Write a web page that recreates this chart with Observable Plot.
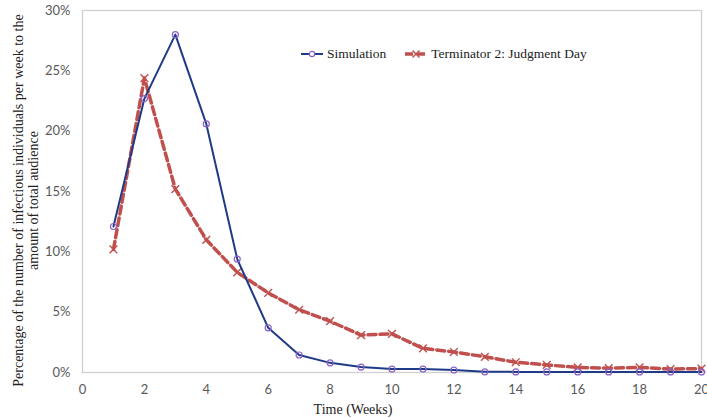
<!DOCTYPE html>
<html>
<head>
<meta charset="utf-8">
<script src="https://cdn.jsdelivr.net/npm/d3@7"></script>
<script src="https://cdn.jsdelivr.net/npm/@observablehq/plot@0.6"></script>
<style>
  body { margin: 0; background: #fff; }
  #wrap { position: relative; width: 707px; height: 418px; }
  #legend { position: absolute; left: 301px; top: 46px; font-family: "Liberation Serif", "Times New Roman", serif; font-size: 13.5px; color: #222; display: flex; align-items: center; white-space: nowrap; }
  #legend .item { display: flex; align-items: center; }
  #legend svg { margin-right: 4px; }
</style>
</head>
<body>
<div id="wrap"></div>
<script>
const weeks = [1,2,3,4,5,6,7,8,9,10,11,12,13,14,15,16,17,18,19,20];
const simulation = [12.1,22.7,28.0,20.6,9.4,3.7,1.45,0.8,0.45,0.28,0.28,0.2,0.06,0.05,0.05,0.05,0.05,0.05,0.05,0.05];
const terminator = [10.2,24.4,15.2,11.0,8.3,6.6,5.2,4.25,3.1,3.2,2.0,1.7,1.3,0.85,0.63,0.42,0.36,0.42,0.28,0.33];
const seriesNames = ["Simulation", "Terminator 2: Judgment Day"];
const xTicks = [0,2,4,6,8,10,12,14,16,18,20];
const yTicks = [0,5,10,15,20,25,30];
const xTitle = "Time (Weeks)";
const yTitle = "Percentage of the number of infectious individuals per week to the\namount of total audience";

const simData = weeks.map((w, i) => ({week: w, value: simulation[i]}));
const termData = weeks.map((w, i) => ({week: w, value: terminator[i]}));

const blue = "#1F3B87";
const purple = "#8A63C8";
const red = "#C0504D";

const chart = Plot.plot({
  width: 707,
  height: 418,
  marginLeft: 82,
  marginRight: 6,
  marginTop: 10,
  marginBottom: 46,
  x: {domain: [0, 20]},
  y: {domain: [0, 30]},
  style: {fontFamily: "Lato, 'Liberation Sans', sans-serif", fontSize: "13px", color: "#595959", background: "#fff"},
  marks: [
    Plot.frame({stroke: "#d0d0d0", strokeWidth: 1.3}),
    Plot.axisX({ticks: xTicks, tickSize: 0, tickPadding: 12, label: null, fontSize: 13, fill: "#595959"}),
    Plot.axisY({ticks: yTicks, tickSize: 0, tickPadding: 12, label: null, tickFormat: d => d + "%", fontSize: 13, fill: "#595959"}),
    Plot.text([xTitle], {frameAnchor: "bottom", dx: -39, dy: 37, lineAnchor: "middle", fontFamily: "'Liberation Serif', 'Times New Roman', serif", fontSize: 14, fill: "#222"}),
    Plot.text([yTitle], {frameAnchor: "left", dx: -57, dy: 9, rotate: -90, textAnchor: "middle", lineAnchor: "middle", lineHeight: 1.07, fontFamily: "'Liberation Serif', 'Times New Roman', serif", fontSize: 14, fill: "#222"}),
    Plot.line(termData, {x: "week", y: "value", stroke: red, strokeWidth: 3.5, strokeDasharray: "8,4"}),
    Plot.dot(termData, {x: "week", y: "value", symbol: "times", r: 3.6, stroke: red, strokeWidth: 1.4}),
    Plot.line(simData, {x: "week", y: "value", stroke: blue, strokeWidth: 2}),
    Plot.dot(simData, {x: "week", y: "value", symbol: "circle", r: 3, stroke: purple, strokeWidth: 1.2, fill: "none"})
  ]
});

const wrap = document.getElementById("wrap");
wrap.appendChild(chart);

const legend = document.createElement("div");
legend.id = "legend";
legend.innerHTML = `
  <div class="item">
    <svg width="22" height="12"><line x1="0" y1="6" x2="22" y2="6" stroke="${blue}" stroke-width="2"/><circle cx="11" cy="6" r="2.6" fill="#fff" stroke="${purple}" stroke-width="1.2"/></svg>
    <span>${seriesNames[0]}</span>
  </div>
  <div class="item" style="margin-left:19px">
    <svg width="22" height="12"><line x1="0" y1="6" x2="22" y2="6" stroke="${red}" stroke-width="3.5" stroke-dasharray="8,4"/><path d="M7.5,2.5L14.5,9.5M14.5,2.5L7.5,9.5" stroke="${red}" stroke-width="1.5"/></svg>
    <span>${seriesNames[1]}</span>
  </div>`;
wrap.appendChild(legend);
</script>
</body>
</html>
